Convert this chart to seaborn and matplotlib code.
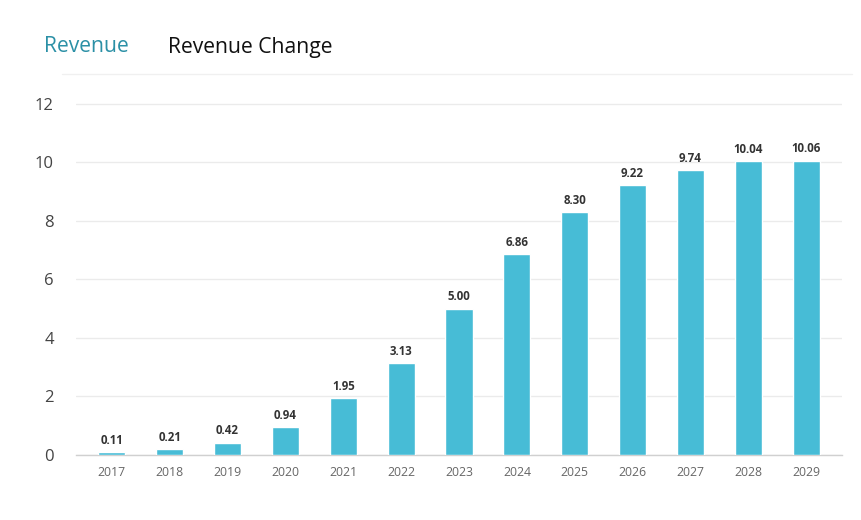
import matplotlib
matplotlib.use("Agg")
import matplotlib.pyplot as plt
import seaborn as sns
import pandas as pd

# Data
years = ["2017", "2018", "2019", "2020", "2021", "2022", "2023",
         "2024", "2025", "2026", "2027", "2028", "2029"]
revenue = [0.11, 0.21, 0.42, 0.94, 1.95, 3.13, 5.00,
           6.86, 8.30, 9.22, 9.74, 10.04, 10.06]
y_ticks = [0, 2, 4, 6, 8, 10, 12]

df = pd.DataFrame({"Year": years, "Revenue": revenue})

sns.set_style("white")
plt.rcParams["font.family"] = ["Open Sans", "DejaVu Sans"]

fig = plt.figure(figsize=(8.61, 5.2), dpi=100)
ax = fig.add_axes([0.0883, 0.125, 0.978 - 0.0883, 0.8115 - 0.125])

sns.barplot(data=df, x="Year", y="Revenue", color="#47bcd6", width=0.47,
            saturation=1, ax=ax, zorder=3)

# value labels
for i, v in enumerate(revenue):
    ax.text(i, v + 0.18, f"{v:.2f}", ha="center", va="bottom",
            fontsize=8.3, fontweight="bold", color="#333333", zorder=4)

ax.set_xlim(-0.62, 12.62)
ax.set_ylim(0, 12.2)
ax.set_yticks(y_ticks)
ax.set_yticklabels([str(t) for t in y_ticks], fontsize=12, color="#444444")
ax.tick_params(axis="y", length=0, pad=16)
ax.tick_params(axis="x", length=5, color="#d0d0d0", labelsize=8.8,
               labelcolor="#666666", pad=3)
ax.yaxis.grid(True, color="#ebebeb", linewidth=1, zorder=0)
ax.set_axisbelow(True)
ax.set_xlabel("")
ax.set_ylabel("")
for s in ["top", "right", "left"]:
    ax.spines[s].set_visible(False)
ax.spines["bottom"].set_color("#d0d0d0")
ax.spines["bottom"].set_linewidth(1)

# header tabs
fig.text(44 / 861, 1 - 47 / 520, "Revenue", fontsize=15.2, color="#2b90a6",
         va="center", ha="left", fontweight="medium")
fig.text(168 / 861, 1 - 47 / 520, "Revenue Change", fontsize=15.2,
         color="#111111", va="center", ha="left", fontweight="medium")
fig.add_artist(plt.Line2D([62 / 861, 852 / 861], [1 - 74 / 520, 1 - 74 / 520],
                          color="#f0f0f0", linewidth=1))

fig.savefig("out.png", dpi=100)
